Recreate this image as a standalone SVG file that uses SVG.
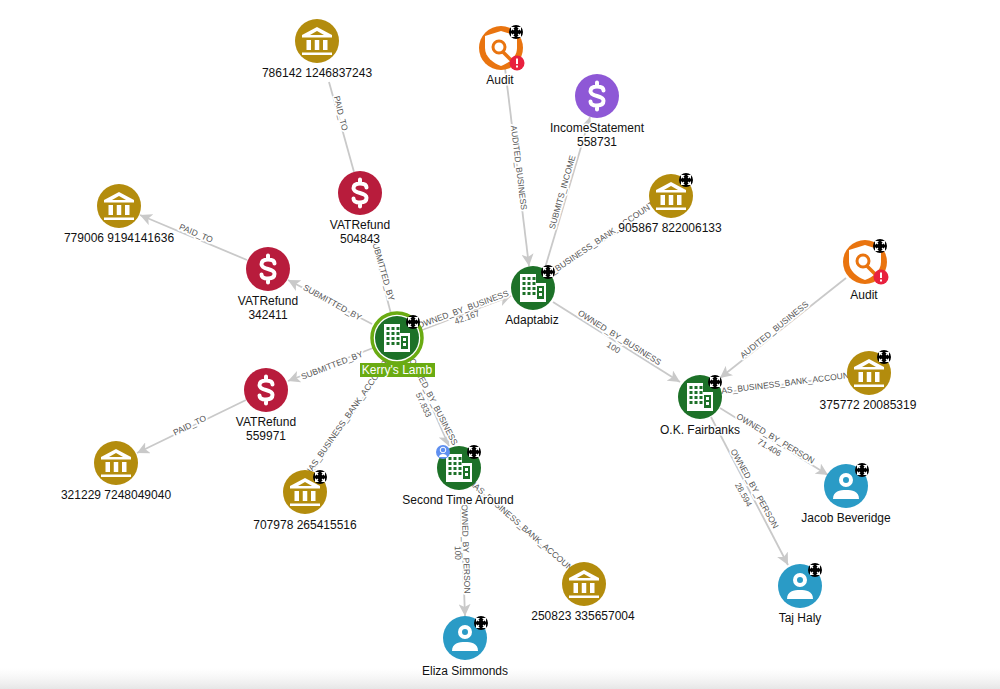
<svg xmlns="http://www.w3.org/2000/svg" width="1000" height="689" viewBox="0 0 1000 689">
<style>
text{font-family:"Liberation Sans",Arial,sans-serif}
.n{font-size:12px;fill:#111;text-anchor:middle;paint-order:stroke;stroke:#fff;stroke-width:3px;stroke-linejoin:round}
.k{font-size:12px;fill:#fff;text-anchor:middle}
.e{font-size:8.5px;fill:#555;text-anchor:middle;paint-order:stroke;stroke:#fff;stroke-width:3.5px;stroke-linejoin:round}
.v{font-size:8.5px;fill:#555;text-anchor:middle}
.l{stroke:#c9c9c9;stroke-width:1.8;fill:none}
.a{stroke:#c9c9c9;stroke-width:1.8;fill:none;marker-end:url(#arr)}
.d{fill:none;stroke:#fff;stroke-width:4;stroke-linecap:round}
</style>
<defs>
<linearGradient id="fade" x1="0" y1="0" x2="0" y2="1"><stop offset="0" stop-color="#f1f1f1" stop-opacity="0"/><stop offset="1" stop-color="#e6e6e6"/></linearGradient>
<marker id="arr" markerUnits="userSpaceOnUse" markerWidth="14" markerHeight="12" refX="12" refY="6" orient="auto"><path d="M0 0L12 6L0 12L3 6Z" fill="#c9c9c9"/></marker>
<g id="bank"><circle r="22" fill="#b38c0d"/><path d="M0-14L15-6V-3.500H-15V-6ZM0-10L-7-6H7Z" fill="#fff" fill-rule="evenodd"/><path d="M-10.500-1h4.500V9h-4.500ZM-2.250-1h4.500V9h-4.500ZM6-1h4.500V9h-4.500ZM-15 11.500H15V14H-15Z" fill="#fff"/></g>
<g id="dollar"><path class="d" d="M6.500-5.500C6.500-8 4-9.500 0-9.500C-4-9.500-6.500-8-6.500-4.800C-6.500-2-4-1 0 0C4 1 6.500 2 6.500 4.800C6.500 8 4 9.500 0 9.500C-4 9.500-6.500 8-6.500 5.500M0-13.500V-9.500M0 9.500V13.500"/></g>
<g id="usd"><circle r="22" fill="#b81c3c"/><use href="#dollar"/></g>
<g id="usdp"><circle r="22" fill="#8e58d6"/><use href="#dollar"/></g>
<g id="biz"><circle r="22" fill="#1d7128"/><path d="M-13-14H3V-5H13V14H-13Z" fill="#fff"/><g fill="#1d7128"><rect x="-10.500" y="-11" width="3" height="3"/><rect x="-5.500" y="-11" width="3" height="3"/><rect x="-0.500" y="-11" width="3" height="3"/><rect x="-10.500" y="-6" width="3" height="3"/><rect x="-5.500" y="-6" width="3" height="3"/><rect x="-0.500" y="-6" width="3" height="3"/><rect x="-10.500" y="-1" width="3" height="3"/><rect x="-5.500" y="-1" width="3" height="3"/><rect x="-0.500" y="-1" width="3" height="3"/><rect x="-10.500" y="4" width="3" height="3"/><rect x="-5.500" y="4" width="3" height="3"/><rect x="-0.500" y="4" width="3" height="3"/><path d="M4-2H11V11H4ZM6 0V3H9V0ZM6 5V8H9V5Z" fill-rule="evenodd"/></g></g>
<g id="person"><circle r="22" fill="#2a9bc6"/><circle cy="-6" r="5" fill="none" stroke="#fff" stroke-width="4"/><path d="M-13 13C-13 5-6 4 0 4S13 5 13 13Z" fill="#fff"/></g>
<g id="audit"><circle r="22" fill="#e9740f"/><path d="M0-17L16-12V0C16 9 8 15 0 18C-8 15-16 9-16 0V-12Z" fill="#fff"/><circle cx="-2" cy="-1" r="6" fill="#fff" stroke="#e9740f" stroke-width="3"/><path d="M2 4L12 14" stroke="#e9740f" stroke-width="3.500"/><circle cx="16" cy="15" r="7.500" fill="#e8213f"/><path d="M16 10.500V16M16 17.500V19.500" stroke="#fff" stroke-width="2"/></g>
<g id="mv"><circle r="7" fill="#000"/><path d="M-5-5L-1-5L-5-1ZM5-5L1-5L5-1ZM-5 5L-1 5L-5 1ZM5 5L1 5L5 1Z" fill="#fff"/><path d="M-2-2L-4-4M2-2L4-4M-2 2L-4 4M2 2L4 4" stroke="#fff" stroke-width="1.100"/></g>
</defs>
<rect width="1000" height="689" fill="#fff"/>
<rect y="668" width="1000" height="21" fill="url(#fade)"/>
<g id="connectors">
<path class="l" d="M329 82L354 172"/>
<path class="a" d="M247 260L140 215"/>
<path class="l" d="M374 247L391 314"/>
<path class="a" d="M372 324L288 280"/>
<path class="a" d="M373 348L288 381"/>
<path class="a" d="M246 400L137 453"/>
<path class="l" d="M314 470L388 362"/>
<path class="a" d="M412 362L449 446"/>
<path class="a" d="M422 330L511 296"/>
<path class="a" d="M505 68L529 266"/>
<path class="a" d="M545 268L590 117"/>
<path class="l" d="M552 275L632 222"/>
<path class="a" d="M553 302L680 382"/>
<path class="a" d="M846 278L720 378"/>
<path class="l" d="M847 376L721 393"/>
<path class="a" d="M720 408L828 475"/>
<path class="a" d="M711 417L788 565"/>
<path class="l" d="M475 487L566 568"/>
<path class="a" d="M461 508L465 616"/>
</g>
<g id="edge-labels">
<text class="e" transform="translate(338 114) rotate(76)">PAID_TO</text>
<text class="e" transform="translate(195 236) rotate(23)">PAID_TO</text>
<text class="e" transform="translate(380 270) rotate(74)">SUBMITTED_BY</text>
<text class="e" transform="translate(331 305) rotate(29)">SUBMITTED_BY</text>
<text class="e" transform="translate(333 368) rotate(-21)">SUBMITTED_BY</text>
<text class="e" transform="translate(191 428) rotate(-26)">PAID_TO</text>
<text class="e" transform="translate(349 419) rotate(-55)">HAS_BUSINESS_BANK_ACCOUNT</text>
<text class="e" transform="translate(431 403) rotate(63)">OWNED_BY_BUSINESS</text>
<text class="v" transform="translate(421 406) rotate(65)">57.833</text>
<text class="e" transform="translate(464 312) rotate(-20)">OWNED_BY_BUSINESS</text>
<text class="v" transform="translate(468 320) rotate(-20)">42.167</text>
<text class="e" transform="translate(516 168) rotate(83)">AUDITED_BUSINESS</text>
<text class="e" transform="translate(565 193) rotate(-74)">SUBMITS_INCOME</text>
<text class="e" transform="translate(597 245) rotate(-34)">HAS_BUSINESS_BANK_ACCOUNT</text>
<text class="e" transform="translate(618 340) rotate(32)">OWNED_BY_BUSINESS</text>
<text class="v" transform="translate(612 350) rotate(32)">100</text>
<text class="e" transform="translate(776 332) rotate(-39)">AUDITED_BUSINESS</text>
<text class="e" transform="translate(785 386) rotate(-7)">HAS_BUSINESS_BANK_ACCOUNT</text>
<text class="e" transform="translate(774 441) rotate(31)">OWNED_BY_PERSON</text>
<text class="v" transform="translate(768 450) rotate(31)">71.406</text>
<text class="e" transform="translate(752 490) rotate(61)">OWNED_BY_PERSON</text>
<text class="v" transform="translate(741 496) rotate(61)">28.594</text>
<text class="e" transform="translate(521 529) rotate(41)">HAS_BUSINESS_BANK_ACCOUNT</text>
<text class="e" transform="translate(463 549) rotate(88)">OWNED_BY_PERSON</text>
<text class="v" transform="translate(455 553) rotate(88)">100</text>
</g>
<g id="n-786142"><use href="#bank" x="317" y="41"/><text class="n" x="317" y="77">786142 1246837243</text></g>
<g id="n-audit1"><use href="#audit" x="501" y="48"/><use href="#mv" x="516" y="32"/><text class="n" x="500" y="84">Audit</text></g>
<g id="n-income"><use href="#usdp" x="597" y="96"/><text class="n" x="597" y="132">IncomeStatement</text><text class="n" x="597" y="146">558731</text></g>
<g id="n-905867"><use href="#bank" x="671" y="196"/><use href="#mv" x="686" y="180"/><text class="n" x="670" y="232">905867 822006133</text></g>
<g id="n-vat504843"><use href="#usd" x="360" y="193"/><text class="n" x="360" y="229">VATRefund</text><text class="n" x="360" y="243">504843</text></g>
<g id="n-779006"><use href="#bank" x="119" y="206"/><text class="n" x="119" y="242">779006 9194141636</text></g>
<g id="n-vat342411"><use href="#usd" x="268" y="269"/><text class="n" x="268" y="305">VATRefund</text><text class="n" x="268" y="319">342411</text></g>
<g id="n-adaptabiz"><use href="#biz" x="533" y="288"/><use href="#mv" x="548" y="272"/><text class="n" x="532" y="324">Adaptabiz</text></g>
<g id="n-audit2"><use href="#audit" x="865" y="262"/><use href="#mv" x="880" y="246"/><text class="n" x="864" y="299">Audit</text></g>
<g id="n-375772"><use href="#bank" x="869" y="373"/><use href="#mv" x="884" y="357"/><text class="n" x="868" y="409">375772 20085319</text></g>
<g id="n-fairbanks"><use href="#biz" x="700" y="397"/><use href="#mv" x="715" y="382"/><text class="n" x="700" y="434">O.K. Fairbanks</text></g>
<g id="n-vat559971"><use href="#usd" x="266" y="390"/><text class="n" x="266" y="426">VATRefund</text><text class="n" x="266" y="440">559971</text></g>
<g id="n-321229"><use href="#bank" x="116" y="463"/><text class="n" x="116" y="499">321229 7248049040</text></g>
<g id="n-707978"><use href="#bank" x="305" y="492"/><use href="#mv" x="320" y="477"/><text class="n" x="305" y="529">707978 265415516</text></g>
<g id="n-second"><use href="#biz" x="459" y="468"/><use href="#mv" x="474" y="452"/><circle cx="443" cy="452" r="7" fill="#5f8ff0"/><circle cx="443" cy="450" r="2.800" fill="none" stroke="#fff"/><path d="M439 457C439 453 447 453 447 457Z" fill="#fff"/><text class="n" x="458" y="504">Second Time Around</text></g>
<g id="n-250823"><use href="#bank" x="584" y="584"/><text class="n" x="583" y="620">250823 335657004</text></g>
<g id="n-jacob"><use href="#person" x="846" y="486"/><use href="#mv" x="862" y="470"/><text class="n" x="846" y="522">Jacob Beveridge</text></g>
<g id="n-taj"><use href="#person" x="800" y="586"/><use href="#mv" x="815" y="570"/><text class="n" x="800" y="622">Taj Haly</text></g>
<g id="n-eliza"><use href="#person" x="465" y="638"/><use href="#mv" x="481" y="623"/><text class="n" x="465" y="675">Eliza Simmonds</text></g>
<g id="n-kerry"><circle cx="397" cy="338" r="25" fill="#fff" stroke="#6aab12" stroke-width="3.500"/><use href="#biz" x="397" y="338"/><use href="#mv" x="413" y="322"/><rect x="360" y="363" width="75" height="14" fill="#6aab12"/><text class="k" x="397" y="374">Kerry's Lamb</text></g>
</svg>
